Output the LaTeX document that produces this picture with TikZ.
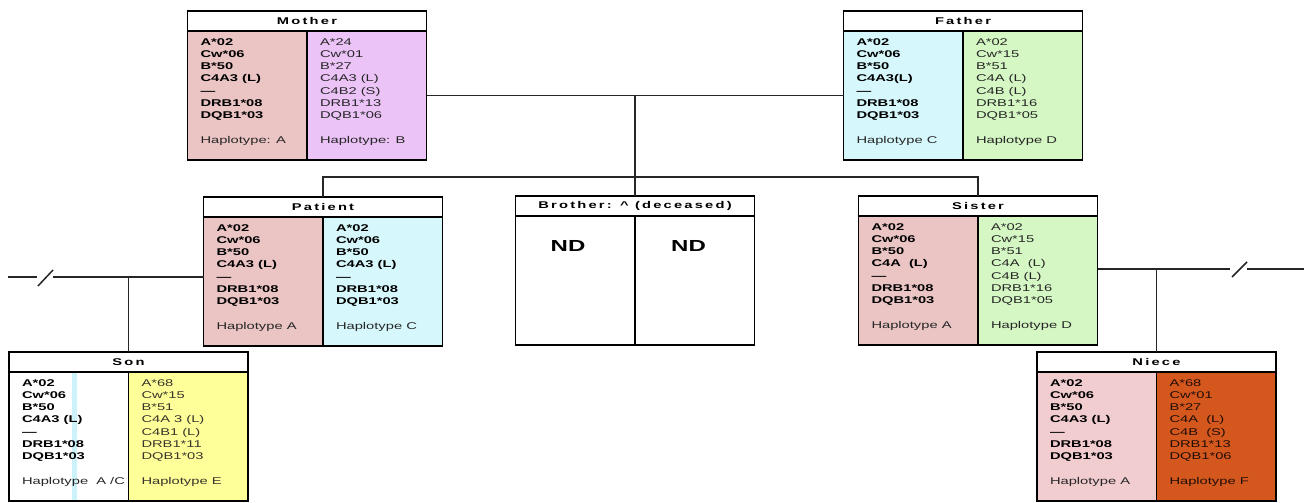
\documentclass[tikz,border=0pt]{standalone}
\usepackage{fontspec}
\usepackage{graphicx}
\usepackage{array}
\setmainfont{Liberation Sans}
\newfontfamily\ttlfont{Liberation Sans}[LetterSpace=15]
\definecolor{pinkA}{HTML}{EBC4C4}
\definecolor{pinkB}{HTML}{F2CDD0}
\definecolor{lav}{HTML}{EBC3F7}
\definecolor{cyanA}{HTML}{D6F8FC}
\definecolor{greenA}{HTML}{D5F7C4}
\definecolor{yel}{HTML}{FFFF99}
\definecolor{orng}{HTML}{D4581E}
\definecolor{stripe}{HTML}{CCF2FA}
\definecolor{txtg}{HTML}{262626}
\newcommand\sx[1]{\scalebox{1.5}[1]{#1}}
\newcommand\bcol[1]{\sx{\begin{tabular}{@{}>{\bfseries}l@{}}#1\end{tabular}}}
\newcommand\rcol[1]{\sx{\begin{tabular}{@{}l@{}}#1\end{tabular}}}
\newcommand\hap[1]{\mdseries\color{txtg}#1}
\tikzset{
  ttl/.style={draw=black, line width=1.4pt, fill=white, minimum width=239pt, minimum height=20pt,
    inner sep=0pt, outer sep=0pt, font={\ttlfont\bfseries\fontsize{9.8}{12}\selectfont}},
  col/.style={draw=black, line width=1.4pt, minimum width=119.5pt, minimum height=129pt,
    inner sep=0pt, outer sep=0pt, anchor=north west},
  txt/.style={anchor=north west, inner sep=0pt, outer sep=0pt, xshift=13pt, yshift=-5.4pt,
    text=txtg, font={\fontsize{9.8}{12.3}\selectfont}},
  btxt/.style={txt, text=black},
  nd/.style={anchor=north west, inner sep=0pt, font={\bfseries\fontsize{16}{18}\selectfont}},
  conn/.style={draw=black!85, line width=1.5pt}
}
\begin{document}
\begin{tikzpicture}[x=1pt,y=-1pt]
\useasboundingbox[fill=white] (0,0) rectangle (1304,503);
% ---------- Mother ----------
\node[ttl] (motherT) at (307,21) {\sx{Mother}};
\node[col, fill=pinkA] (motherL) at (motherT.south west) {};
\node[col, fill=lav] (motherR) at (motherL.north east) {};
\node[btxt] (motherLt) at (motherL.north west) {\bcol{A*02\\Cw*06\\B*50\\C4A3 (L)\\—\\DRB1*08\\DQB1*03\\ \\\hap{Haplotype: A}}};
\node[txt] (motherRt) at (motherR.north west) {\rcol{A*24\\Cw*01\\B*27\\C4A3 (L)\\C4B2 (S)\\DRB1*13\\DQB1*06\\ \\Haplotype: B}};
% ---------- Father ----------
\node[ttl] (fatherT) at (963,21) {\sx{Father}};
\node[col, fill=cyanA] (fatherL) at (fatherT.south west) {};
\node[col, fill=greenA] (fatherR) at (fatherL.north east) {};
\node[btxt] (fatherLt) at (fatherL.north west) {\bcol{A*02\\Cw*06\\B*50\\C4A3(L)\\—\\DRB1*08\\DQB1*03\\ \\\hap{Haplotype C}}};
\node[txt] (fatherRt) at (fatherR.north west) {\rcol{A*02\\Cw*15\\B*51\\C4A (L)\\C4B (L)\\DRB1*16\\DQB1*05\\ \\Haplotype D}};
% ---------- Patient ----------
\node[ttl] (patientT) at (323,207) {\sx{Patient}};
\node[col, fill=pinkA] (patientL) at (patientT.south west) {};
\node[col, fill=cyanA] (patientR) at (patientL.north east) {};
\node[btxt] (patientLt) at (patientL.north west) {\bcol{A*02\\Cw*06\\B*50\\C4A3 (L)\\—\\DRB1*08\\DQB1*03\\ \\\hap{Haplotype A}}};
\node[btxt] (patientRt) at (patientR.north west) {\bcol{A*02\\Cw*06\\B*50\\C4A3 (L)\\—\\DRB1*08\\DQB1*03\\ \\\hap{Haplotype C}}};
% ---------- Brother ----------
\node[ttl] (brotherT) at (635,206) {\sx{Brother: \^{} (deceased)}};
\node[col, fill=white] (brotherL) at (brotherT.south west) {};
\node[col, fill=white] (brotherR) at (brotherL.north east) {};
\node[nd] (brotherLt) at ([xshift=35pt,yshift=-24pt]brotherL.north west) {\sx{ND}};
\node[nd] (brotherRt) at ([xshift=36pt,yshift=-24pt]brotherR.north west) {\sx{ND}};
% ---------- Sister ----------
\node[ttl] (sisterT) at (978,206) {\sx{Sister}};
\node[col, fill=pinkA] (sisterL) at (sisterT.south west) {};
\node[col, fill=greenA] (sisterR) at (sisterL.north east) {};
\node[btxt] (sisterLt) at (sisterL.north west) {\bcol{A*02\\Cw*06\\B*50\\C4A\ \ (L)\\—\\DRB1*08\\DQB1*03\\ \\\hap{Haplotype A}}};
\node[txt] (sisterRt) at (sisterR.north west) {\rcol{A*02\\Cw*15\\B*51\\C4A\ \ (L)\\C4B (L)\\DRB1*16\\DQB1*05\\ \\Haplotype D}};
% ---------- Son ----------
\node[ttl] (sonT) at (128.5,362) {\sx{Son}};
\node[col, fill=white] (sonL) at (sonT.south west) {};
\fill[stripe] (72,373) rectangle (77,500);
\draw[black, line width=1.4pt] (sonL.north west) rectangle (sonL.south east);
\node[col, fill=yel] (sonR) at (sonL.north east) {};
\node[btxt] (sonLt) at (sonL.north west) {\bcol{A*02\\Cw*06\\B*50\\C4A3 (L)\\—\\DRB1*08\\DQB1*03\\ \\\hap{Haplotype\ \ A /C}}};
\node[txt, text=black!80!olive] (sonRt) at (sonR.north west) {\rcol{A*68\\Cw*15\\B*51\\C4A 3 (L)\\C4B1 (L)\\DRB1*11\\DQB1*03\\ \\Haplotype E}};
% ---------- Niece ----------
\node[ttl] (nieceT) at (1156.5,362) {\sx{Niece}};
\node[col, fill=pinkB] (nieceL) at (nieceT.south west) {};
\node[col, fill=orng] (nieceR) at (nieceL.north east) {};
\node[btxt] (nieceLt) at (nieceL.north west) {\bcol{A*02\\Cw*06\\B*50\\C4A3 (L)\\—\\DRB1*08\\DQB1*03\\ \\\hap{Haplotype A}}};
\node[txt, text=black!85!orng] (nieceRt) at (nieceR.north west) {\rcol{A*68\\Cw*01\\B*27\\C4A\ \ (L)\\C4B\ \ (S)\\DRB1*13\\DQB1*06\\ \\Haplotype F}};
% ---------- Connectors ----------
\draw[conn] (motherR.east) -- (fatherL.west);
\draw[conn] (brotherT.north |- motherR.east) -- (brotherT.north);
\draw[conn] (patientT.north) -- ++(0,-20) -| (sisterT.north);
% left partner line with break mark
\coordinate (lend) at (8,277);
\coordinate (lbrkA) at (37,277);
\coordinate (lbrkB) at (53,277);
\draw[conn] (lend) -- (lbrkA);
\draw[conn] (lbrkB) -- (patientL.west |- lend);
\draw[conn] (38,286) -- (53,270);
\draw[conn] (sonT.north |- lend) -- (sonT.north);
% right partner line with break mark
\coordinate (rend) at (1304,269);
\coordinate (rbrkA) at (1230,269);
\coordinate (rbrkB) at (1247,269);
\draw[conn] (sisterR.east |- rend) -- (rbrkA);
\draw[conn] (rbrkB) -- (rend);
\draw[conn] (1232,277) -- (1247,262);
\draw[conn] (nieceT.north |- rend) -- (nieceT.north);
\end{tikzpicture}
\end{document}
